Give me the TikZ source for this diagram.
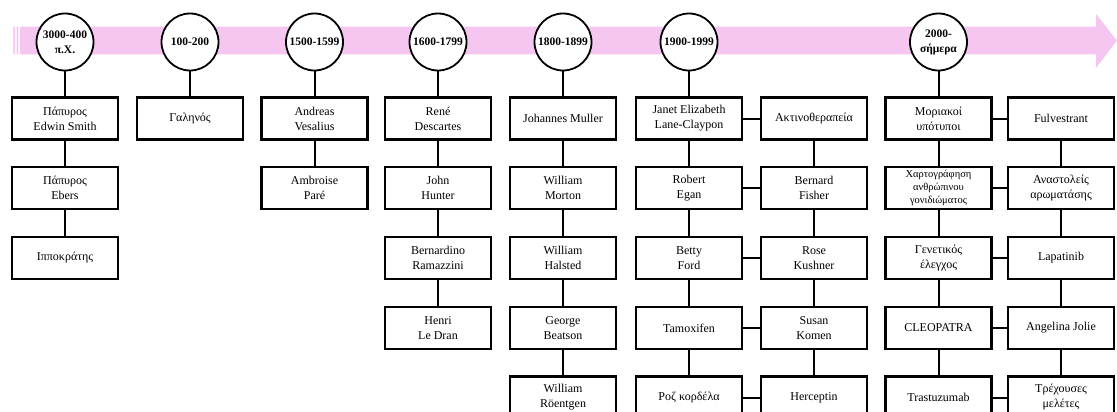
\documentclass[tikz,border=0pt]{standalone}
\usepackage{fontspec}
\setmainfont{Liberation Serif}
\definecolor{bandpink}{RGB}{245,198,240}
\begin{document}
\begin{tikzpicture}[x=1pt,y=-1pt,
    era/.style={circle,draw,fill=white,line width=1.8pt,minimum size=57pt,inner sep=0pt,
      align=center,font=\fontsize{11.5}{15}\selectfont\bfseries},
    item/.style={rectangle,draw,fill=white,line width=2.6pt,minimum width=106pt,minimum height=42pt,
      inner sep=2pt,align=center,font=\fontsize{12}{15}\selectfont},
    small/.style={font=\fontsize{10.5}{13}\selectfont,inner sep=1pt}]
      \clip (0,0) rectangle (1117,412);
      \fill[bandpink] (20,26.7) rectangle (1096,54.5)
        (1096,14) -- (1117,40.5) -- (1096,68) -- cycle;
      \fill[bandpink] (13.3,26.7) rectangle (15,54.5) (16.7,26.7) rectangle (18.3,54.5);
      \draw
        (65,42) node[era] (e1){3000-400\\π.Χ.}
        (190,42) node[era] (e2){100-200}
        (314.5,42) node[era] (e3){1500-1599}
        (438,42) node[era] (e4){1600-1799}
        (563,42) node[era] (e5){1800-1899}
        (689,42) node[era] (e6){1900-1999}
        (938.5,42) node[era] (e7){2000-\\σήμερα};
      \draw
        (65,118.5) node[item] (a1){Πάπυρος\\Edwin Smith}
        (65,188) node[item] (a2){Πάπυρος\\Ebers}
        (65,258) node[item] (a3){Ιπποκράτης}
        (190,118.5) node[item] (b1){Γαληνός}
        (314.5,118.5) node[item] (c1){Andreas\\Vesalius}
        (314.5,188) node[item] (c2){Ambroise\\Paré}
        (438,118.5) node[item] (d1){René\\Descartes}
        (438,188) node[item] (d2){John\\Hunter}
        (438,258) node[item] (d3){Bernardino\\Ramazzini}
        (438,328) node[item] (d4){Henri\\Le Dran}
        (563,118.5) node[item] (f1){Johannes Muller}
        (563,188) node[item] (f2){William\\Morton}
        (563,258) node[item] (f3){William\\Halsted}
        (563,328) node[item] (f4){George\\Beatson}
        (563,397.5) node[item] (f5){William\\Röentgen}
        (689,118.5) node[item] (g1){Janet Elizabeth\\Lane-Claypon}
        (689,188) node[item] (g2){Robert\\Egan}
        (689,258) node[item] (g3){Betty\\Ford}
        (689,328) node[item] (g4){Tamoxifen}
        (689,397.5) node[item] (g5){Ροζ κορδέλα}
        (814,118.5) node[item] (h1){Ακτινοθεραπεία}
        (814,188) node[item] (h2){Bernard\\Fisher}
        (814,258) node[item] (h3){Rose\\Kushner}
        (814,328) node[item] (h4){Susan\\Komen}
        (814,397.5) node[item] (h5){Herceptin}
        (938.5,118.5) node[item] (i1){Μοριακοί\\υπότυποι}
        (938.5,188) node[item,small] (i2){Χαρτογράφηση\\ανθρώπινου\\γονιδιώματος}
        (938.5,258) node[item] (i3){Γενετικός\\έλεγχος}
        (938.5,328) node[item] (i4){CLEOPATRA}
        (938.5,397.5) node[item] (i5){Trastuzumab}
        (1061,118.5) node[item] (j1){Fulvestrant}
        (1061,188) node[item] (j2){Αναστολείς\\αρωματάσης}
        (1061,258) node[item] (j3){Lapatinib}
        (1061,328) node[item] (j4){Angelina Jolie}
        (1061,397.5) node[item] (j5){Τρέχουσες\\μελέτες};
      \begin{scope}[-,line width=2pt]
        \draw (e1) to (a1);
        \draw (a1) to (a2);
        \draw (a2) to (a3);
        \draw (e2) to (b1);
        \draw (e3) to (c1);
        \draw (c1) to (c2);
        \draw (e4) to (d1);
        \draw (d1) to (d2);
        \draw (d2) to (d3);
        \draw (d3) to (d4);
        \draw (e5) to (f1);
        \draw (f1) to (f2);
        \draw (f2) to (f3);
        \draw (f3) to (f4);
        \draw (f4) to (f5);
        \draw (e6) to (g1);
        \draw (g1) to (g2);
        \draw (g2) to (g3);
        \draw (g3) to (g4);
        \draw (g4) to (g5);
        \draw (h1) to (h2);
        \draw (h2) to (h3);
        \draw (h3) to (h4);
        \draw (h4) to (h5);
        \draw (g1) to (h1);
        \draw (g2) to (h2);
        \draw (g3) to (h3);
        \draw (g4) to (h4);
        \draw (g5) to (h5);
        \draw (e7) to (i1);
        \draw (i1) to (i2);
        \draw (i2) to (i3);
        \draw (i3) to (i4);
        \draw (i4) to (i5);
        \draw (j1) to (j2);
        \draw (j2) to (j3);
        \draw (j3) to (j4);
        \draw (j4) to (j5);
        \draw (i1) to (j1);
        \draw (i2) to (j2);
        \draw (i3) to (j3);
        \draw (i4) to (j4);
        \draw (i5) to (j5);
      \end{scope}
    \end{tikzpicture}
\end{document}
